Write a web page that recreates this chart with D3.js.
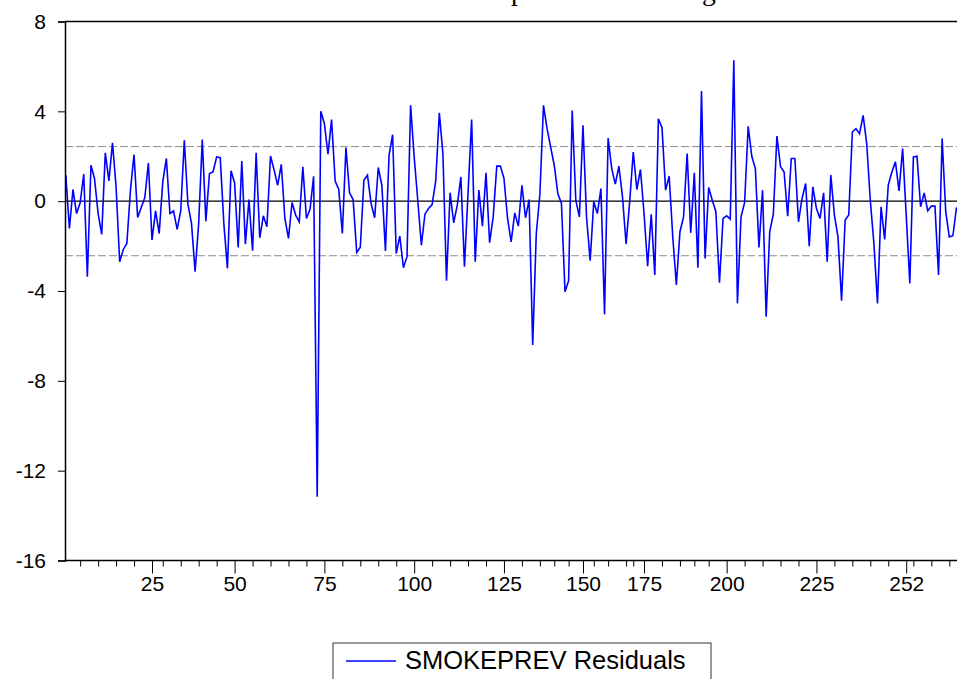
<!DOCTYPE html>
<html>
<head>
<meta charset="utf-8">
<script src="https://cdn.jsdelivr.net/npm/d3@7"></script>
<style>
  body { margin: 0; background: #fff; }
  svg { display: block; }
</style>
</head>
<body>
<svg id="main" width="957" height="679"></svg>
<script>
const residuals = [
  1.16, -1.21, 0.52, -0.55, -0.07, 1.2, -3.36, 1.6, 1.0, -0.55,
  -1.48, 2.15, 0.9, 2.6, 0.64, -2.7, -2.15, -1.88, 0.49, 2.07,
  -0.73, -0.28, 0.16, 1.7, -1.73, -0.43, -1.44, 0.86, 1.9, -0.55,
  -0.43, -1.26, -0.43, 2.71, -0.13, -0.99, -3.14, -0.99, 2.74, -0.89,
  1.23, 1.3, 1.97, 1.94, -0.99, -2.99, 1.35, 0.81, -2.06, 1.79,
  -1.91, 0.07, -2.21, 2.15, -1.63, -0.65, -1.14, 2.01, 1.38, 0.71,
  1.64, -0.77, -1.66, -0.06, -0.62, -0.92, 1.53, -0.77, -0.36, 1.11,
  -13.16, 4.0, 3.45, 2.09, 3.63, 0.9, 0.52, -1.44, 2.39, 0.37,
  0.07, -2.28, -2.05, 0.93, 1.16, -0.1, -0.74, 1.5, 0.71, -2.22,
  2.04, 2.96, -2.33, -1.56, -2.96, -2.47, 4.27, 1.97, 0.04, -1.96,
  -0.58, -0.33, -0.15, 0.9, 3.93, 2.12, -3.54, 0.37, -0.96, -0.18,
  1.08, -2.92, 0.37, 3.64, -2.7, 0.49, -1.11, 1.26, -1.85, -0.7,
  1.56, 1.56, 1.01, -0.77, -1.81, -0.52, -1.11, 0.71, -0.74, 0.07,
  -6.4, -1.44, 0.31, 4.27, 3.23, 2.41, 1.6, 0.34, -0.1, -4.03,
  -3.54, 4.04, 0.04, -0.7, 3.38, -0.73, -2.65, -0.03, -0.55, 0.56,
  -5.04, 2.81, 1.45, 0.76, 1.56, 0.19, -1.91, -0.03, 2.19, 0.52,
  1.41, -0.55, -2.89, -0.58, -3.29, 3.67, 3.27, 0.49, 1.11, -1.59,
  -3.73, -1.36, -0.7, 2.12, -1.41, 1.26, -2.96, 4.9, -2.55, 0.61,
  0.04, -0.47, -3.63, -0.77, -0.65, -0.8, 6.27, -4.55, -0.7, -0.07,
  3.33, 2.0, 1.45, -2.06, 0.49, -5.14, -1.36, -0.58, 2.9, 1.53,
  1.3, -0.67, 1.9, 1.9, -0.92, 0.12, 0.79, -2.0, 0.64, -0.33,
  -0.77, 0.37, -2.7, 1.16, -0.62, -1.59, -4.43, -0.84, -0.62, 3.08,
  3.23, 3.0, 3.82, 2.56, 0.04, -1.88, -4.55, -0.25, -1.7, 0.71,
  1.3, 1.75, 0.46, 2.34, -0.62, -3.66, 1.97, 2.0, -0.25, 0.37,
  -0.43, -0.22, -0.22, -3.29, 2.79, -0.47, -1.59, -1.54, -0.28
];

// x axis: labelled observations and where they sit in the series
const majorTickIdx = [25, 48, 73, 98, 123, 145, 162, 185, 210, 235];
const majorTickLabels = ["25", "50", "75", "100", "125", "150", "175", "200", "225", "252"];
const minorTickIdx = [5, 10, 15, 20, 28, 33, 38, 43, 53, 58, 63, 68, 78, 83, 88, 93,
  103, 108, 113, 118, 128, 133, 137, 141, 148, 152, 157, 159, 167, 172, 176, 180,
  190, 195, 200, 205, 215, 220, 225, 230, 237, 242, 247];

const yTicks = [8, 4, 0, -4, -8, -12, -16];
const seBand = [2.43, -2.43];

const titleText = "Residual Graph of the Smoking Model";
const legendLabel = "SMOKEPREV Residuals";

const svg = d3.select("#main");
const plotLeft = 65, plotTop = 21.5, plotBottom = 560.5;

const x = d3.scaleLinear().domain([1, residuals.length]).range([65.8, 956.5]);
const y = d3.scaleLinear().domain([-16, 8]).range([plotBottom, plotTop]);

// title, mostly off the top of the picture
const title = svg.append("text")
  .attr("y", 0)
  .attr("font-family", "Liberation Serif, Times New Roman, serif")
  .attr("font-size", 26)
  .text(titleText);
{
  const node = title.node();
  const pi = titleText.indexOf("p"), gi = titleText.indexOf("g", pi);
  const px = node.getStartPositionOfChar(pi).x, gx = node.getStartPositionOfChar(gi).x;
  const k = (702 - 511) / (gx - px);
  title.attr("font-size", 26 * k);
  const px2 = node.getStartPositionOfChar(pi).x;
  title.attr("x", 511 - px2);
}

// reference lines
svg.append("g").selectAll("line")
  .data(seBand)
  .join("line")
  .attr("x1", plotLeft).attr("x2", 957)
  .attr("y1", d => y(d)).attr("y2", d => y(d))
  .attr("stroke", "#8c8c8c")
  .attr("stroke-width", 1)
  .attr("stroke-dasharray", "8,3");

svg.append("line")
  .attr("x1", plotLeft).attr("x2", 957)
  .attr("y1", y(0)).attr("y2", y(0))
  .attr("stroke", "#000")
  .attr("stroke-width", 1.3);

// series
const line = d3.line()
  .x((d, i) => x(i + 1))
  .y(d => y(d));

svg.append("path")
  .datum(residuals)
  .attr("d", line)
  .attr("fill", "none")
  .attr("stroke", "#0000ff")
  .attr("stroke-width", 1.6)
  .attr("stroke-linejoin", "miter");

// frame
svg.append("line").attr("x1", plotLeft).attr("x2", 957).attr("y1", plotTop).attr("y2", plotTop)
  .attr("stroke", "#000").attr("stroke-width", 1.5);

// y axis (plain hyphen for negatives, as in the original)
const yAxis = svg.append("g")
  .attr("transform", `translate(${plotLeft},0)`)
  .call(d3.axisLeft(y).tickValues(yTicks).tickSize(7).tickPadding(12).tickFormat(d => String(d)));
yAxis.select(".domain").attr("stroke-width", 1.5);
yAxis.selectAll("text")
  .attr("font-family", "Liberation Sans, Arial, sans-serif")
  .attr("font-size", 21)
  .attr("fill", "#000");

// x axis, minor then major ticks
const xMinor = svg.append("g")
  .attr("transform", `translate(0,${plotBottom})`)
  .call(d3.axisBottom(x).tickValues(minorTickIdx).tickSize(6).tickFormat(""));
xMinor.select(".domain").remove();

const xMajor = svg.append("g")
  .attr("transform", `translate(0,${plotBottom})`)
  .call(d3.axisBottom(x).tickValues(majorTickIdx).tickSize(13).tickPadding(3)
    .tickFormat((d, i) => majorTickLabels[i]));
xMajor.select(".domain").attr("d", `M${plotLeft},0H957`).attr("stroke-width", 1.5);
xMajor.selectAll("text")
  .attr("font-family", "Liberation Sans, Arial, sans-serif")
  .attr("font-size", 21)
  .attr("fill", "#000");

// legend
const legend = svg.append("g").attr("transform", "translate(333,643)");
legend.append("rect")
  .attr("width", 378).attr("height", 60)
  .attr("fill", "#fff").attr("stroke", "#333").attr("stroke-width", 1);
legend.append("line")
  .attr("x1", 13).attr("x2", 63).attr("y1", 18).attr("y2", 18)
  .attr("stroke", "#0000ff").attr("stroke-width", 1.6);
legend.append("text")
  .attr("x", 72).attr("y", 26)
  .attr("font-family", "Liberation Sans, Arial, sans-serif")
  .attr("font-size", 25.5)
  .text(legendLabel);
</script>
</body>
</html>
